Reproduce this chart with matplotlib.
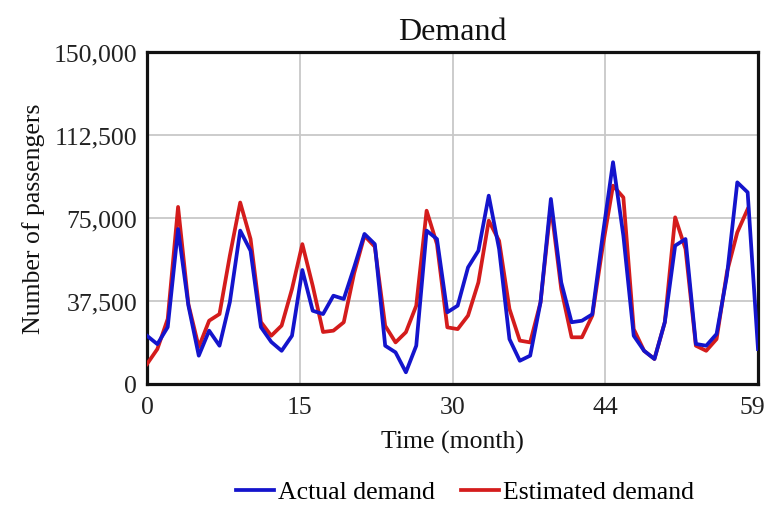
import numpy as np
import matplotlib
matplotlib.use("Agg")
import matplotlib.pyplot as plt
import matplotlib.transforms as mtransforms
from matplotlib.ticker import StrMethodFormatter

months = list(range(60))
actual_demand = [
    21800, 18000, 25700, 70000, 35400, 12800, 24100, 17300, 37000, 69300,
    60200, 25700, 19000, 15000, 21800, 51500, 33100, 31600, 39900, 38400,
    52700, 67800, 63200, 17300, 14300, 5300, 17300, 69300, 65500, 32400,
    35400, 52700, 60200, 85100, 61000, 20300, 10500, 12800, 36900, 83600,
    45900, 27900, 28600, 31500, 67000, 100200, 67000, 21800, 15000, 11300,
    27900, 62500, 65500, 18100, 17300, 22600, 48900, 91100, 86600, 15800,
]
estimated_demand = [
    9000, 15800, 29400, 80000, 36000, 16700, 28600, 31600, 58000, 82000,
    65500, 28000, 21800, 26400, 42900, 63200, 44400, 23500, 24100, 27900,
    50000, 67000, 62000, 26300, 18800, 23400, 35400, 78300, 63200, 25600,
    24800, 30900, 45900, 73800, 64700, 33900, 19600, 18800, 36900, 80600,
    42900, 21100, 21100, 30900, 62000, 89600, 84300, 24800, 15000, 11300,
    27900, 75300, 61000, 17300, 15000, 20300, 50500, 68500, 79000,
]
x_tick_labels = ["0", "15", "30", "44", "59"]
y_ticks = [0, 37500, 75000, 112500, 150000]

serif = ["Liberation Serif", "DejaVu Serif"]
plt.rcParams["font.family"] = serif

fig = plt.figure(figsize=(7.68, 5.10), dpi=100)
ax = fig.add_axes([147 / 768, 125 / 510, 611 / 768, 332 / 510])

ax.plot(months[:len(estimated_demand)], estimated_demand, color="#d41c1c", lw=2.7,
        label="Estimated demand", zorder=3)
ax.plot(months, actual_demand, color="#1414cc", lw=2.7, label="Actual demand", zorder=4)

ax.set_xlim(0, 59)
ax.set_ylim(0, 150000)
ax.set_xticks(np.linspace(0, 59, len(x_tick_labels)))
ax.set_xticklabels(x_tick_labels)
ax.set_yticks(y_ticks)
ax.yaxis.set_major_formatter(StrMethodFormatter("{x:,.0f}"))
ax.tick_params(axis="both", length=0, labelsize=18.5, colors="#222222")
ax.tick_params(axis="x", pad=9)
ax.tick_params(axis="y", pad=7)
ax.grid(True, color="#c8c8c8", lw=1.3)
ax.set_axisbelow(True)
for s in ax.spines.values():
    s.set_linewidth(2.3)
    s.set_color("#111111")

# keep the last x label inside the figure
last = ax.get_xticklabels()[-1]
last.set_transform(last.get_transform() +
                   mtransforms.ScaledTranslation(-6 / 100, 0, fig.dpi_scale_trans))

ax.set_title("Demand", fontsize=23, pad=9, color="#111111")
ax.set_xlabel("Time (month)", fontsize=18.5, labelpad=8, color="#111111")
ax.set_ylabel("Number of passengers", fontsize=18.5, labelpad=6, color="#111111")

handles, labels = ax.get_legend_handles_labels()
order = [1, 0]
fig.legend([handles[i] for i in order], [labels[i] for i in order],
           loc="center", bbox_to_anchor=(465 / 768, 1 - 493 / 510), ncol=2,
           frameon=False, fontsize=18.5, handlelength=1.5, handletextpad=0.15,
           columnspacing=1.0)

fig.savefig("out.png", dpi=100)
